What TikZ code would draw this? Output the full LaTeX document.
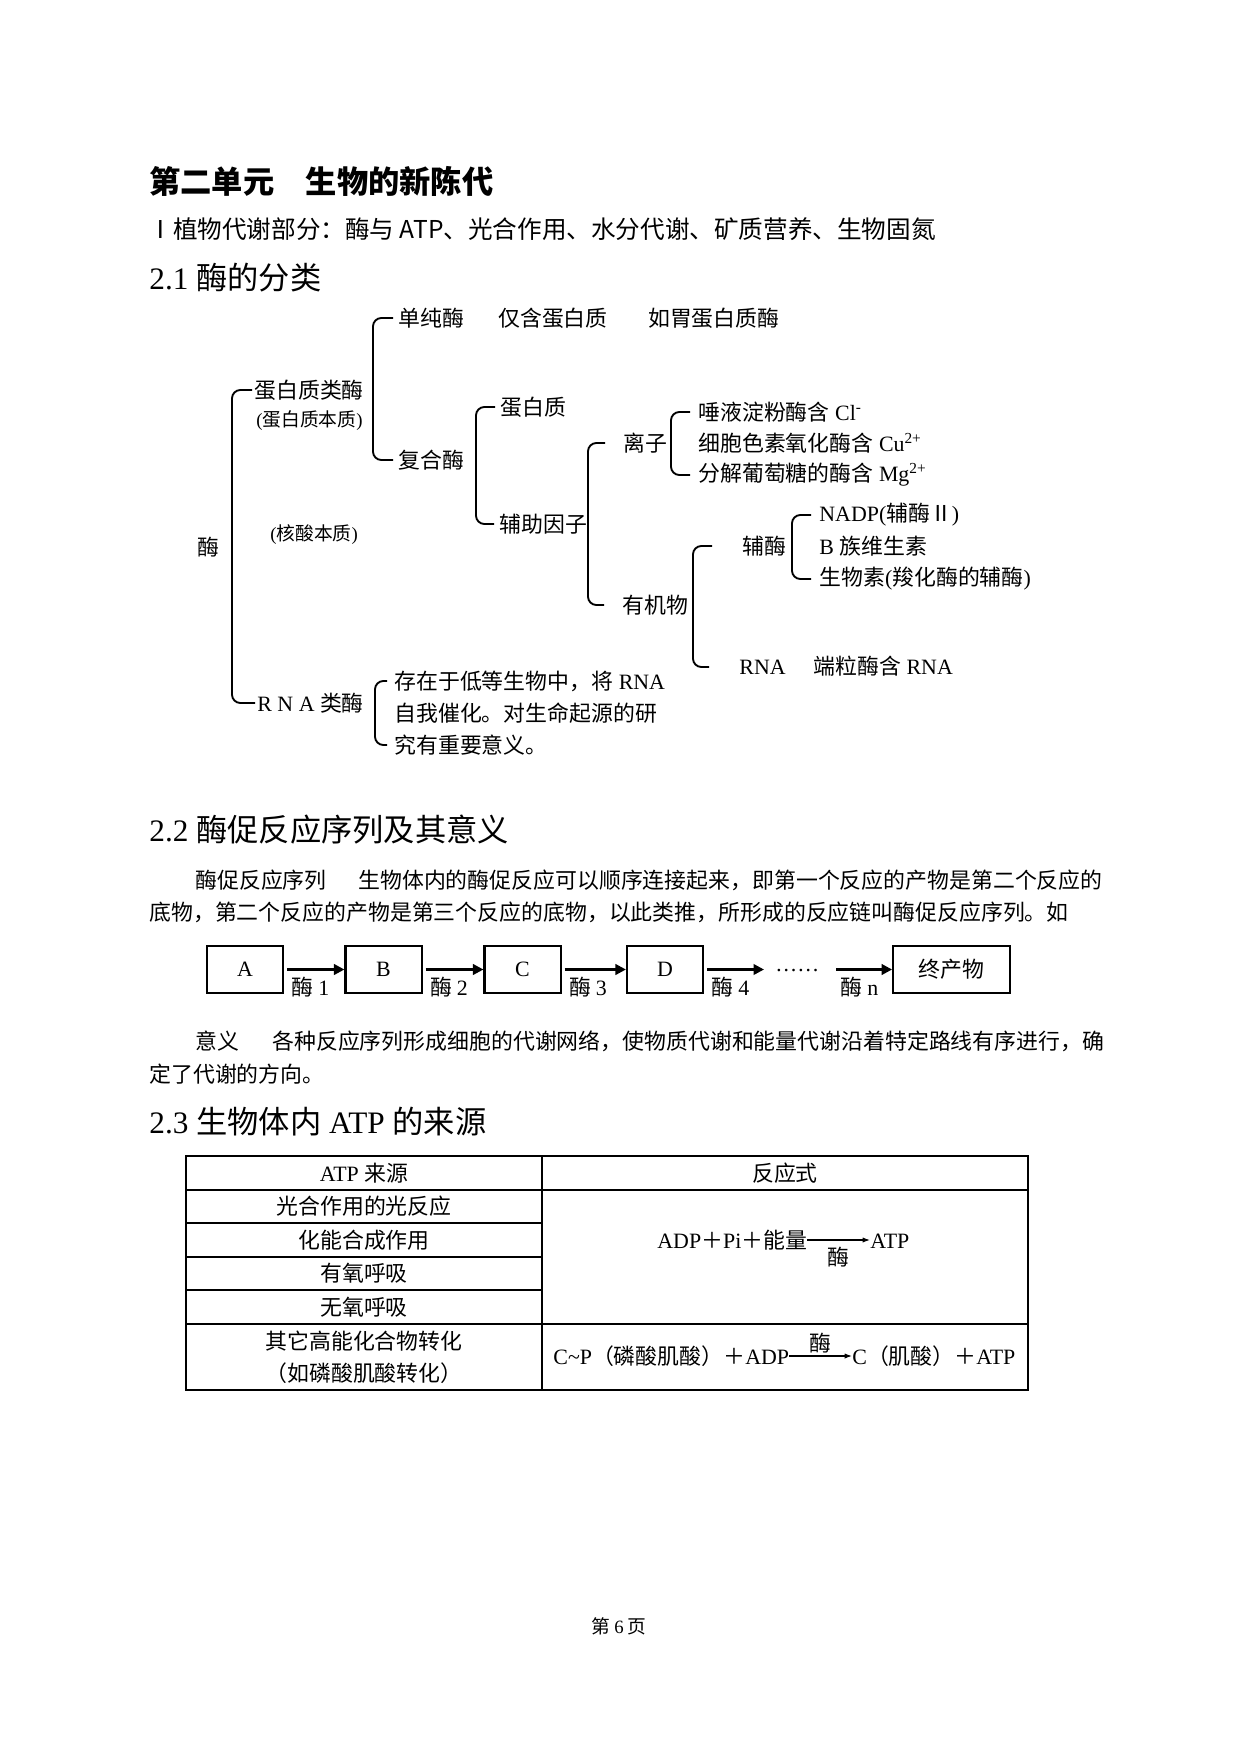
\documentclass[tikz,border=0pt]{standalone}
\usepackage{fontspec}
\setmainfont{Noto Sans CJK SC}
\newfontfamily\latin{Liberation Serif}
\newcommand\rmlat[1]{{\latin #1}}
\usetikzlibrary{positioning,calc,arrows.meta}
% bracket from child #1 down to child #2, gap #3, tick #4
\newcommand\brkt[4]{\draw[brk] ($(#1.west)+(-#3,0)$) -- ++(-#4,0) |- ($(#2.west)+(-#3,0)$);}

\begin{document}
\begin{tikzpicture}[x=0.4797pt, y=-0.4797pt,
  every node/.style={inner sep=0pt},
  txt/.style={anchor=west, font=\fontsize{10.5}{12}\selectfont},
  sml/.style={anchor=west, font=\fontsize{9}{11}\selectfont},
  head/.style={anchor=west, font=\fontsize{15}{18}\selectfont},
  brk/.style={line width=0.9pt, rounded corners=4pt},
  box/.style={draw, line width=1pt, minimum height=22.5pt, font=\fontsize{10.5}{12}\selectfont},
  flow/.style={line width=1.2pt, shorten <=1.5pt, -{Triangle[length=5pt,width=5pt]}},
  lab/.style={anchor=north west, xshift=3pt, yshift=-3pt, font=\fontsize{10.5}{12}\selectfont},
  eqarrow/.style={line width=0.5pt, -{Latex[length=3.5pt,width=2.5pt]}},
  tbl/.style={line width=0.6pt}]
\fill[white] (0,0) rectangle (1241,1754);
\useasboundingbox (0,0) rectangle (1241,1754);

% headings
\node[head, font=\fontsize{15}{18}\selectfont\bfseries] (title) at (149,181) {第二单元　生物的新陈代};
\node[anchor=west, font=\fontsize{11.8}{14}\selectfont] (sub) at (148,229) {Ⅰ植物代谢部分：酶与 ATP、光合作用、水分代谢、矿质营养、生物固氮};
\node[head] (h21) at (149,278) {\rmlat{2.1 }酶的分类};

% 2.1 classification tree
\node[txt] (mei) at (197,547) {酶};
\node[txt] (pz) at (254,390) {蛋白质类酶};
\node[sml] (pzb) at (256,421) {\rmlat{(}蛋白质本质\rmlat{)}};
\node[sml] (he) at (270,535) {\rmlat{(}核酸本质\rmlat{)}};
\node[txt] (rna) at (257,703) {\rmlat{R N A }类酶};

\node[txt] (dan) at (398,318) {单纯酶};
\node[txt, right=16pt of dan] (jin) {仅含蛋白质};
\node[txt, right=19pt of jin] (ru) {如胃蛋白质酶};
\node[txt] (fh) at (398,460) {复合酶};

\node[txt] (dbz) at (500,407) {蛋白质};
\node[txt] (fz) at (499,524) {辅助因子};

\node[txt] (lz) at (623,443) {离子};
\node[txt] (yj) at (622,605) {有机物};

\node[txt] (i1) at (698,412) {唾液淀粉酶含\rmlat{ Cl\textsuperscript{-}}};
\node[txt] (i2) at (698,443) {细胞色素氧化酶含\rmlat{ Cu\textsuperscript{2+}}};
\node[txt] (i3) at (698,475) {分解葡萄糖的酶含\rmlat{ Mg\textsuperscript{2+}}};

\node[txt] (fm) at (742,546) {辅酶};
\node[txt] (rnb) at (739,667) {\rmlat{RNA}};
\node[txt, base right=13pt of rnb] (dl) {端粒酶含\rmlat{ RNA}};

\node[txt] (c1) at (819,515) {\rmlat{NADP(}辅酶Ⅱ\rmlat{)}};
\node[txt] (c2) at (819,546) {\rmlat{B }族维生素};
\node[txt] (c3) at (819,579) {生物素\rmlat{(}羧化酶的辅酶\rmlat{)}};

\node[txt] (r1) at (394,681) {存在于低等生物中，将\rmlat{ RNA}};
\node[txt] (r2) at (394,713) {自我催化。对生命起源的研};
\node[txt] (r3) at (394,745) {究有重要意义。};

\brkt{pz}{rna}{2}{20}
\brkt{dan}{fh}{5}{20}
\brkt{dbz}{fz}{5}{19}
\brkt{lz}{yj}{18}{17}
\brkt{i1}{i3}{8}{19}
\brkt{fm}{rnb}{30}{19}
\brkt{c1}{c3}{8}{19}
\brkt{r1}{r3}{7}{12}

% 2.2 reaction sequence
\node[head] (h22) at (149,830) {\rmlat{2.2 }酶促反应序列及其意义};
\node[txt] (p1a) at (195,880) {酶促反应序列};
\node[txt] (p1b) at (358,880) {生物体内的酶促反应可以顺序连接起来，即第一个反应的产物是第二个反应的};
\node[txt] (p2) at (149,912) {底物，第二个反应的产物是第三个反应的底物，以此类推，所形成的反应链叫酶促反应序列。如};

\node[box, minimum width=36.5pt] (A) at (245,969.5) {\rmlat{A}};
\node[box, minimum width=36.5pt] (B) at (383.5,969.5) {\rmlat{B}};
\node[box, minimum width=36.5pt] (C) at (522.5,969.5) {\rmlat{C}};
\node[box, minimum width=36.5pt] (D) at (665,969.5) {\rmlat{D}};
\node[box, minimum width=56pt] (E) at (951.5,969.5) {终产物};
\coordinate (d1) at (764,969.5);
\node[anchor=base west, font=\fontsize{10.5}{12}\selectfont] (dots) at (775,971) {\rmlat{……}};
\coordinate (d2) at (833,969.5);

\draw[flow] (A) -- (B) node[pos=0, lab] {酶 \rmlat{1}};
\draw[flow] (B) -- (C) node[pos=0, lab] {酶 \rmlat{2}};
\draw[flow] (C) -- (D) node[pos=0, lab] {酶 \rmlat{3}};
\draw[flow] (D) -- (d1) node[pos=0, lab] {酶 \rmlat{4}};
\draw[flow] (d2) -- (E) node[pos=0, lab] {酶 \rmlat{n}};

\node[txt] (s1a) at (195,1041) {意义};
\node[txt] (s1b) at (272,1041) {各种反应序列形成细胞的代谢网络，使物质代谢和能量代谢沿着特定路线有序进行，确};
\node[txt] (s2) at (149,1074) {定了代谢的方向。};

% 2.3 ATP table
\node[head] (h23) at (149,1122) {\rmlat{2.3 }生物体内\rmlat{ ATP }的来源};

\draw[tbl] (186,1156) rectangle (1028,1390);
\draw[tbl] (542,1156) -- (542,1390);
\draw[tbl] (186,1190) -- (1028,1190);
\foreach \y in {1223,1257,1290}
  \draw[tbl] (186,\y) -- (542,\y);
\draw[tbl] (186,1324) -- (1028,1324);

\node[txt, anchor=center] (t0) at (364,1173) {\rmlat{ATP }来源};
\node[txt, anchor=center] (t0r) at (785,1173) {反应式};
\node[txt, anchor=center] (t1) at (364,1206) {光合作用的光反应};
\node[txt, anchor=center] (t2) at (364,1240) {化能合成作用};
\node[txt, anchor=center] (t3) at (364,1273) {有氧呼吸};
\node[txt, anchor=center] (t4) at (364,1307) {无氧呼吸};
\node[txt, anchor=center] (t5) at (364,1341) {其它高能化合物转化};
\node[txt, anchor=center] (t6) at (364,1373) {（如磷酸肌酸转化）};

\node[txt] (ea) at (657,1240) {\rmlat{ADP}＋\rmlat{Pi}＋能量};
\node[txt, base right=30pt of ea] (eb) {\rmlat{ATP}};
\draw[eqarrow] (ea.east) -- (ea.east -| eb.west)
  node[midway, anchor=north, yshift=-3pt, font=\fontsize{10.5}{12}\selectfont] (em1) {酶};

\node[txt] (fa) at (553,1356) {\rmlat{C\textasciitilde P}（磷酸肌酸）＋\rmlat{ADP}};
\node[txt, base right=30pt of fa] (fb) {\rmlat{C}（肌酸）＋\rmlat{ATP}};
\draw[eqarrow] (fa.east) -- (fa.east -| fb.west)
  node[midway, anchor=south, yshift=1pt, font=\fontsize{10.5}{12}\selectfont] (em2) {酶};

\node[anchor=center, font=\fontsize{9}{11}\selectfont] (pg) at (619,1626) {第 \rmlat{6} 页};
\end{tikzpicture}
\end{document}
